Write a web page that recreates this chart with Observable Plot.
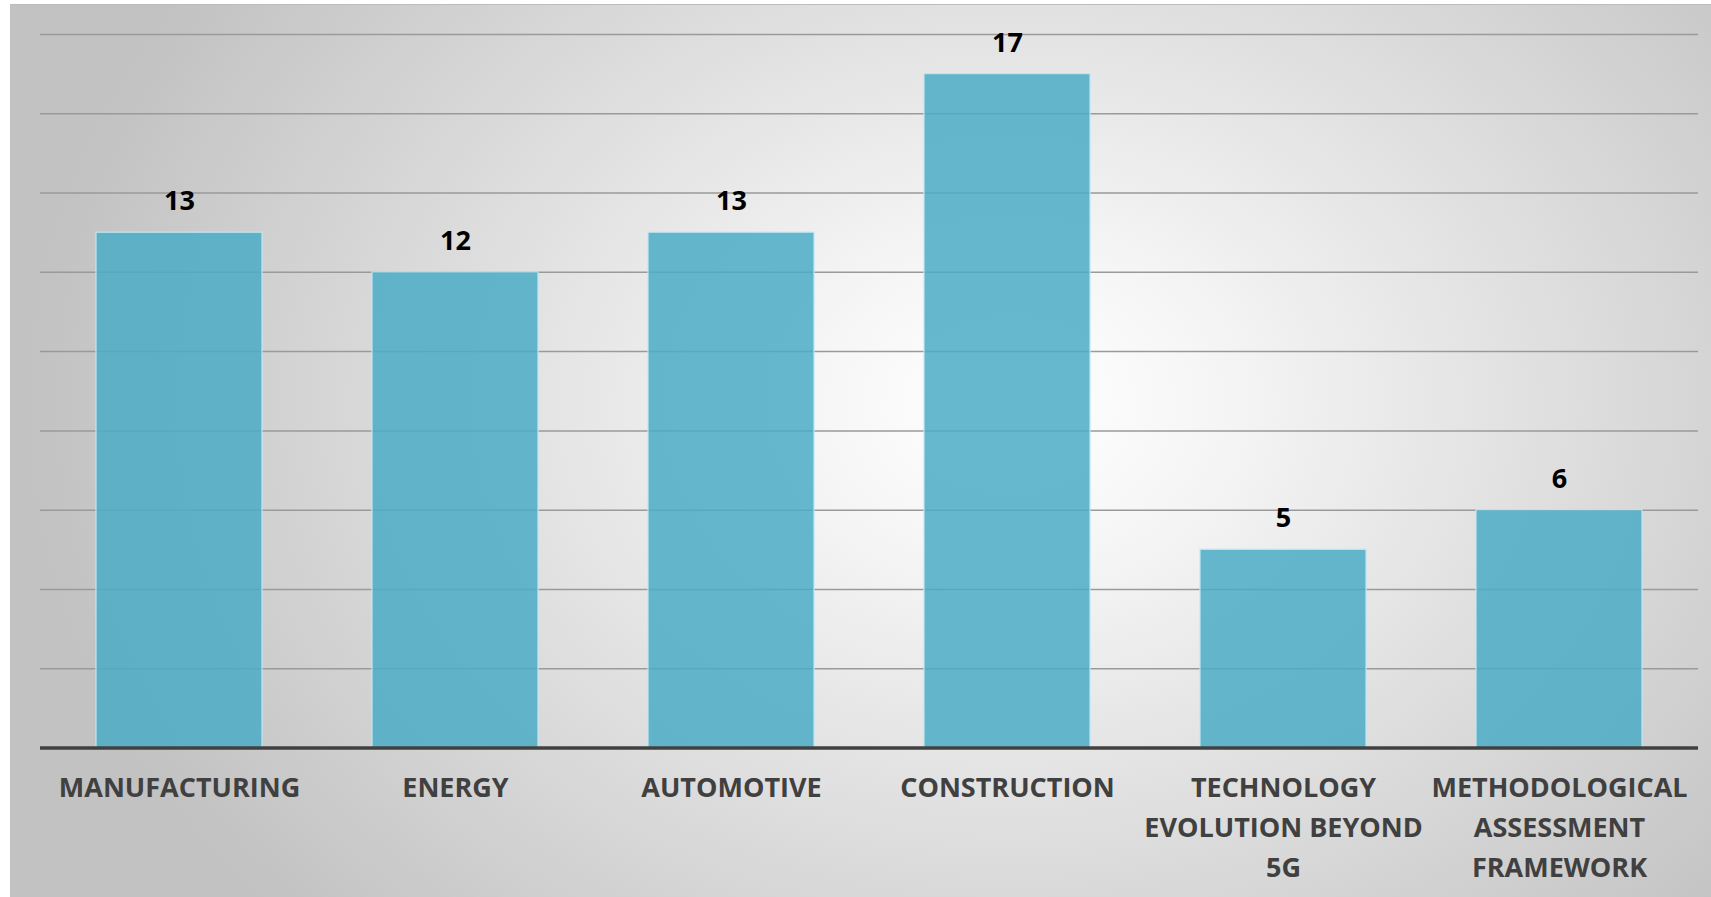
<!DOCTYPE html>
<html>
<head>
<meta charset="utf-8">
<script src="https://cdn.jsdelivr.net/npm/d3@7"></script>
<script src="https://cdn.jsdelivr.net/npm/@observablehq/plot@0.6"></script>
<style>
  html, body { margin: 0; padding: 0; background: #ffffff; }
  #panel {
    position: absolute; left: 10px; top: 4px; width: 1701px; height: 893px;
    border-top: 1.5px solid #bcbcbc; box-sizing: border-box;
    background: radial-gradient(ellipse 980px 760px at 1000px 400px, #ffffff 0%, #f6f6f6 20%, #c2c2c2 100%);
  }
</style>
</head>
<body>
<div id="panel"></div>
<script>
const categories = ["MANUFACTURING", "ENERGY", "AUTOMOTIVE", "CONSTRUCTION", "TECHNOLOGY EVOLUTION BEYOND 5G", "METHODOLOGICAL ASSESSMENT FRAMEWORK"];
const tickLabels = ["MANUFACTURING", "ENERGY", "AUTOMOTIVE", "CONSTRUCTION", "TECHNOLOGY\nEVOLUTION BEYOND\n5G", "METHODOLOGICAL\nASSESSMENT\nFRAMEWORK"];
const values = [13, 12, 13, 17, 5, 6];
const gridTicks = [2, 4, 6, 8, 10, 12, 14, 16, 18];

const data = categories.map((c, i) => ({category: c, label: tickLabels[i], value: values[i]}));
const font = "'Open Sans', 'DejaVu Sans', sans-serif";

const chart = Plot.plot({
  width: 1701,
  height: 892,
  marginLeft: 30,
  marginRight: 13,
  marginTop: 29,
  marginBottom: 149.5,
  style: {background: "transparent", fontFamily: font, overflow: "visible"},
  x: {domain: categories, paddingInner: 0.4, paddingOuter: 0.2, axis: null},
  y: {domain: [0, 18], axis: null},
  marks: [
    Plot.ruleY(gridTicks, {stroke: "#9a9a9a", strokeWidth: 1.5}),
    Plot.barY(data, {x: "category", y: "value", fill: "#4bacc6", fillOpacity: 0.85, stroke: "#bfe6f0", strokeWidth: 1.2}),
    Plot.ruleY([0], {stroke: "#404040", strokeWidth: 3.5}),
    Plot.text(data, {x: "category", y: "value", text: d => String(d.value), dy: -31, lineAnchor: "middle",
      fontSize: 27, fontWeight: "bold", fill: "#000000"}),
    Plot.text(data, {x: "category", y: 0, text: "label", dy: 21, lineAnchor: "top", lineHeight: 1.47,
      fontSize: 27, fontWeight: "bold", fill: "#404040"})
  ]
});
document.getElementById("panel").appendChild(chart);
</script>
</body>
</html>
